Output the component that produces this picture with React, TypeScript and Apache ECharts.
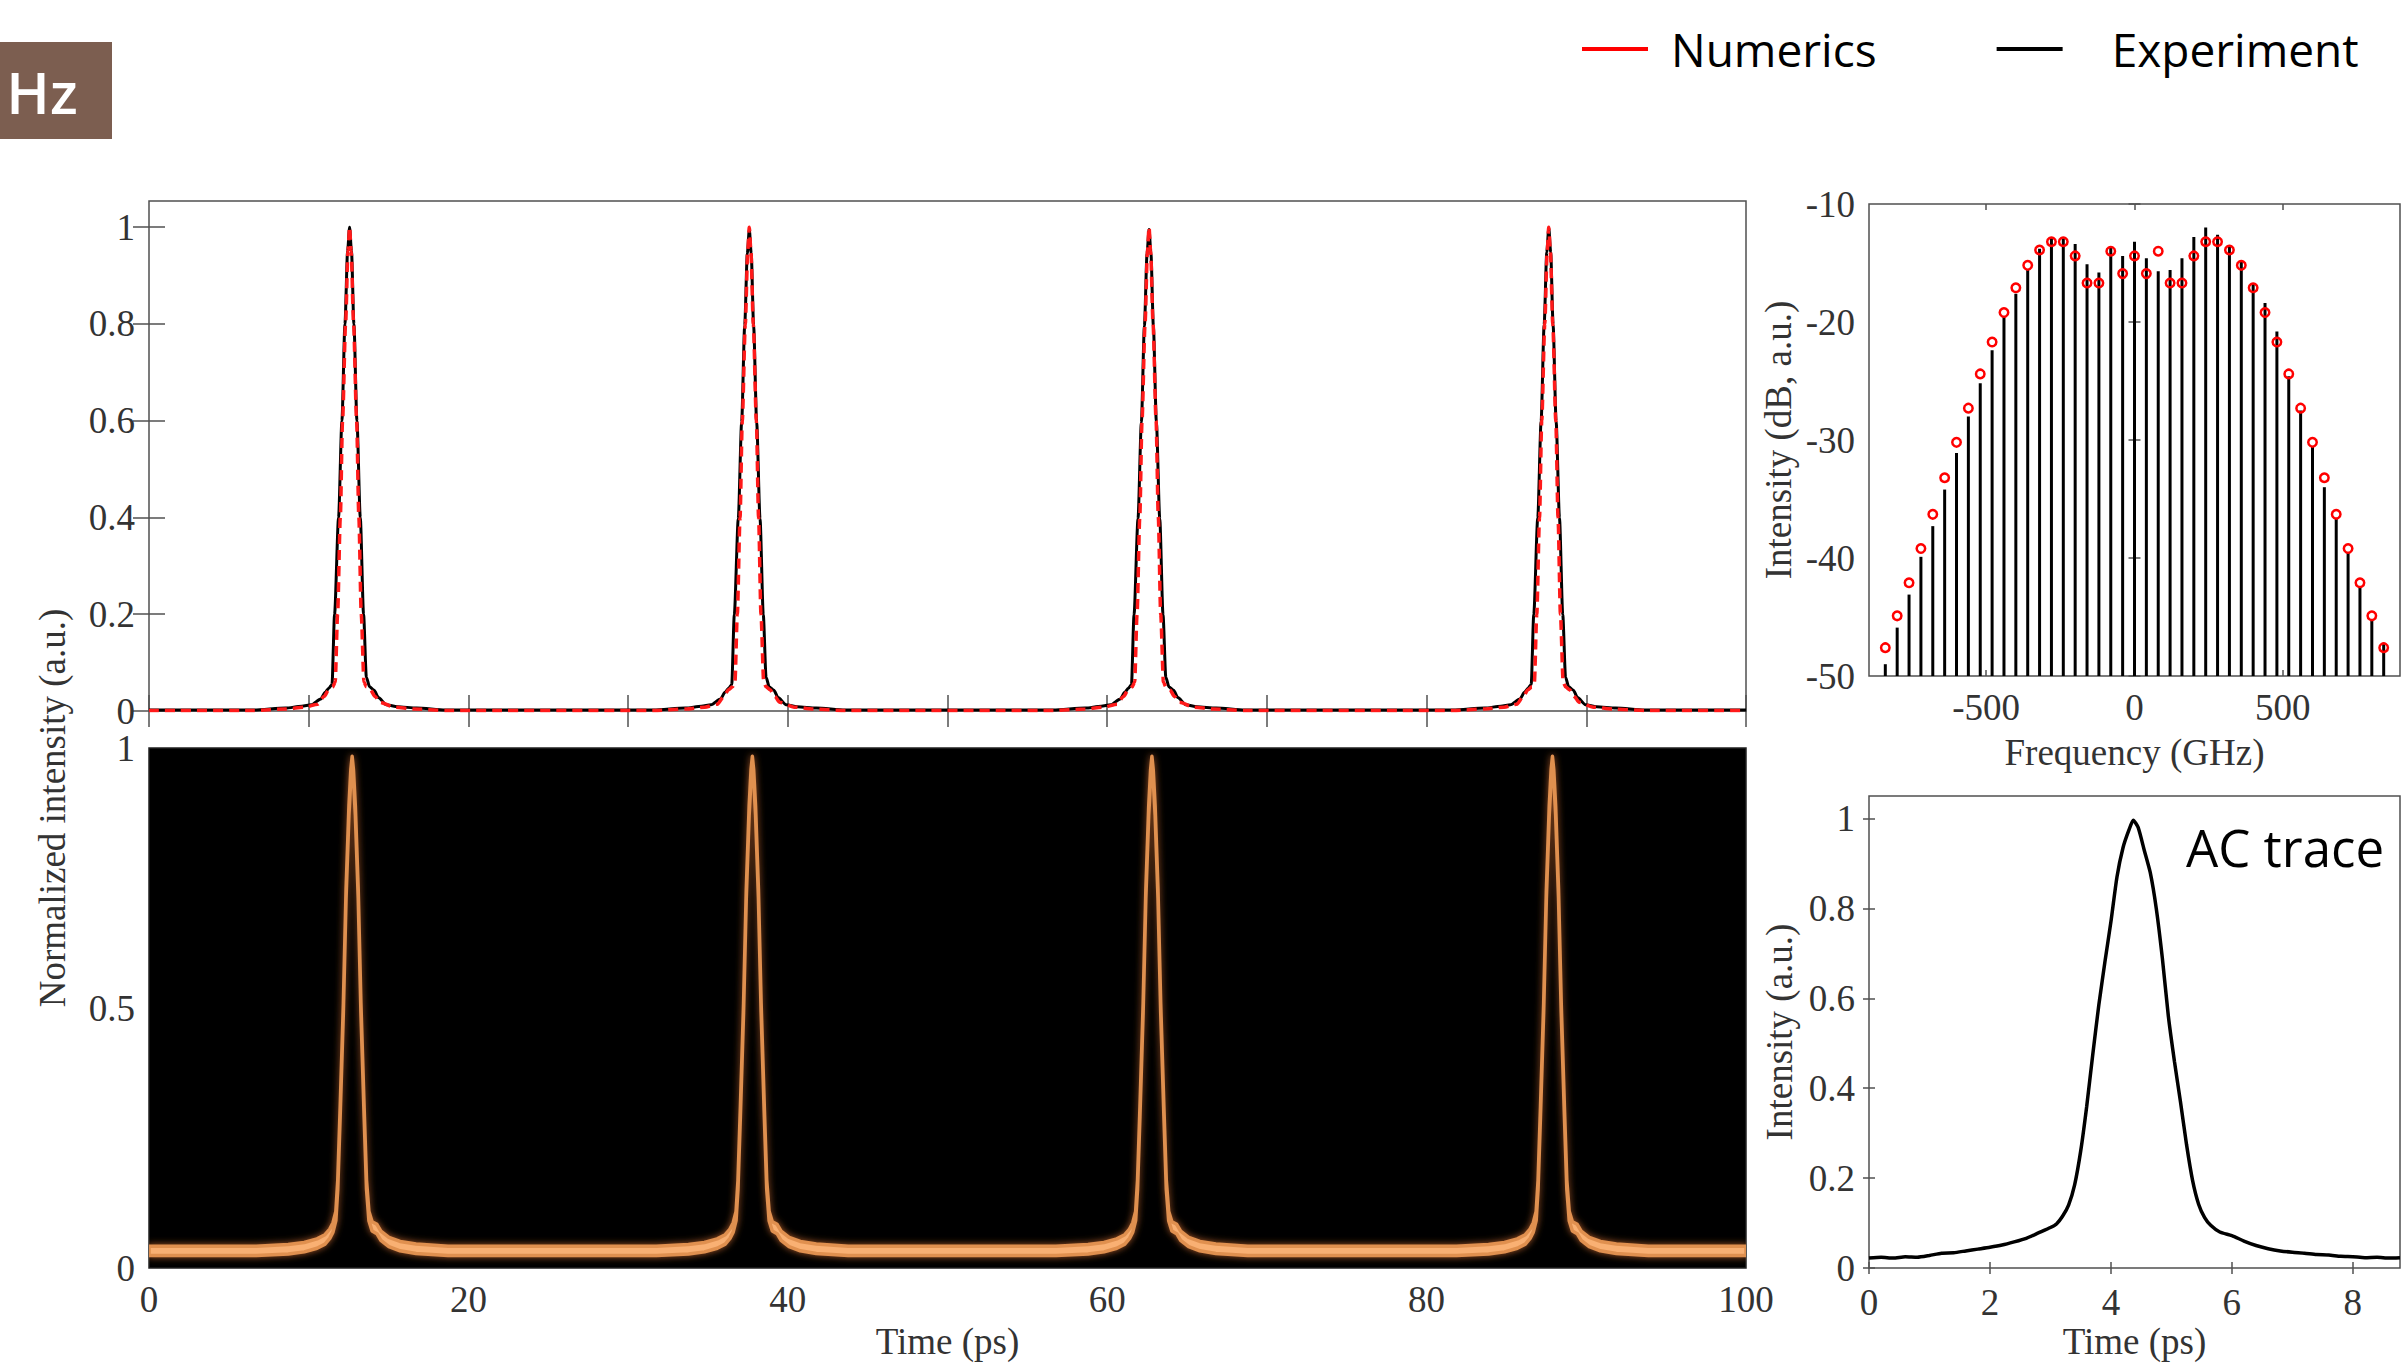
import React, { useEffect, useRef } from 'react';
import * as echarts from 'echarts';

// ---------- data ----------
// Top-left: periodic pulse train (time in ps, normalized intensity)
const TOP_PEAK_TIMES = [12.56, 37.59, 62.62, 87.65];
const EXP_PEAK_HEIGHTS = [1.0, 0.995, 0.995, 0.998];
const NUM_PEAK_HEIGHTS = [1.0, 1.0, 1.0, 1.0];
const EXP_PULSE_DT = [-6, -4, -3, -2.4, -1.8, -1.52, -1.3, -1.1, -0.94, -0.69, -0.48, -0.29, -0.125, 0, 0.12, 0.27, 0.46, 0.67, 0.875, 1.05, 1.25, 1.54, 1.8, 2.3, 3, 4.2, 6];
const EXP_PULSE_V = [0.002, 0.006, 0.01, 0.013, 0.025, 0.039, 0.047, 0.055, 0.2, 0.4, 0.6, 0.8, 0.95, 1.0, 0.95, 0.8, 0.6, 0.4, 0.2, 0.07, 0.05, 0.043, 0.028, 0.013, 0.009, 0.006, 0.002];
const NUM_PULSE_DT = [-6, -4, -2.8, -2.0, -1.6, -1.3, -1.05, -0.9, -0.75, -0.58, -0.44, -0.25, -0.1, 0, 0.1, 0.25, 0.44, 0.58, 0.73, 0.9, 1.05, 1.3, 1.6, 1.9, 2.8, 4, 6];
const NUM_PULSE_V = [0.001, 0.004, 0.008, 0.014, 0.03, 0.044, 0.05, 0.06, 0.2, 0.4, 0.6, 0.8, 0.95, 1.0, 0.95, 0.8, 0.6, 0.4, 0.2, 0.06, 0.05, 0.044, 0.03, 0.018, 0.008, 0.004, 0.001];
const EXP_BASE = 0.002;
const NUM_BASE = 0.001;

// Bottom-left: oscilloscope persistence trace
const SCOPE_PEAK_TIMES = [12.72, 37.78, 62.8, 87.88];
const SCOPE_PEAK_HEIGHTS = [1.0, 1.0, 1.0, 1.0];
const SCOPE_PULSE_DT = [-6, -4, -3, -2.2, -1.7, -1.4, -1.2, -1.02, -0.9, -0.75, -0.55, -0.38, -0.2, -0.08, 0, 0.08, 0.2, 0.38, 0.55, 0.75, 0.9, 1.05, 1.25, 1.55, 1.8, 2.3, 3, 4, 6];
const SCOPE_PULSE_V = [0.033, 0.036, 0.04, 0.047, 0.055, 0.066, 0.078, 0.1, 0.16, 0.3, 0.5, 0.72, 0.88, 0.95, 0.975, 0.95, 0.88, 0.72, 0.5, 0.3, 0.16, 0.1, 0.08, 0.075, 0.062, 0.05, 0.042, 0.037, 0.033];
const SCOPE_BASE = 0.033;
const TIME_END = 100;

// Spectrum (GHz, dB)
const FREQ_GHZ = [-840, -800, -760, -720, -680, -640, -600, -560, -520, -480, -440, -400, -360, -320, -280, -240, -200, -160, -120, -80, -40, 0, 40, 80, 120, 160, 200, 240, 280, 320, 360, 400, 440, 480, 520, 560, 600, 640, 680, 720, 760, 800, 840];
const SPEC_EXP_DB = [-49.0, -45.9, -43.1, -39.9, -37.3, -34.2, -31.1, -28.0, -25.2, -22.4, -19.5, -17.6, -15.6, -13.8, -12.9, -12.9, -13.4, -15.1, -15.8, -13.6, -14.4, -13.2, -14.6, -15.7, -15.6, -14.6, -12.8, -12.0, -12.6, -13.5, -14.8, -16.7, -18.4, -20.8, -24.6, -27.5, -30.5, -34.0, -36.6, -39.5, -42.4, -45.2, -47.2];
const SPEC_NUM_DB = [-47.6, -44.9, -42.1, -39.2, -36.3, -33.2, -30.2, -27.3, -24.4, -21.7, -19.2, -17.1, -15.2, -13.9, -13.2, -13.2, -14.4, -16.7, -16.7, -14.0, -15.9, -14.4, -15.9, -14.0, -16.7, -16.7, -14.4, -13.2, -13.2, -13.9, -15.2, -17.1, -19.2, -21.7, -24.4, -27.3, -30.2, -33.2, -36.3, -39.2, -42.1, -44.9, -47.6];
const SPEC_FLOOR_DB = -50;

// Autocorrelation trace
const AC_T = [0.0, 0.2, 0.4, 0.6, 0.8, 1.0, 1.2, 1.4, 1.6, 1.8, 2.0, 2.2, 2.4, 2.6, 2.8, 3.0, 3.1, 3.2, 3.3, 3.4, 3.5, 3.6, 3.7, 3.8, 3.9, 4.0, 4.1, 4.2, 4.3, 4.37, 4.45, 4.55, 4.65, 4.75, 4.85, 4.95, 5.05, 5.15, 5.25, 5.35, 5.45, 5.55, 5.65, 5.8, 6.0, 6.2, 6.4, 6.6, 6.8, 7.0, 7.2, 7.4, 7.6, 7.8, 8.0, 8.2, 8.4, 8.6, 8.78];
const AC_V = [0.022, 0.024, 0.022, 0.025, 0.024, 0.028, 0.033, 0.034, 0.038, 0.042, 0.046, 0.051, 0.058, 0.066, 0.078, 0.09, 0.098, 0.115, 0.14, 0.185, 0.26, 0.36, 0.475, 0.585, 0.68, 0.77, 0.87, 0.935, 0.975, 0.996, 0.98, 0.93, 0.88, 0.8, 0.69, 0.56, 0.46, 0.37, 0.275, 0.195, 0.142, 0.112, 0.095, 0.08, 0.072, 0.06, 0.05, 0.043, 0.038, 0.035, 0.033, 0.03, 0.029, 0.026, 0.025, 0.023, 0.024, 0.022, 0.023];

// Tick labels
const TOP_Y_TICKS = [0, 0.2, 0.4, 0.6, 0.8, 1];
const SCOPE_Y_TICKS = [0, 0.5, 1];
const SPEC_X_TICKS = [-500, 0, 500];
const AC_X_TICKS = [0, 2, 4, 6, 8];
const AC_Y_TICKS = [0, 0.2, 0.4, 0.6, 0.8, 1];

// ---------- styling ----------
const SERIF = "'Liberation Serif', 'Times New Roman', serif";
const SANS = "'Open Sans', 'Noto Sans', sans-serif";
const LABEL_COLOR = '#333';
const FRAME_COLOR = '#505050';
const RED = '#ff1a1a';

function buildTrace(centers: number[], heights: number[], dts: number[], vals: number[], base: number) {
  const pts: number[][] = [[0, base]];
  centers.forEach((c, k) => {
    dts.forEach((d, i) => pts.push([c + d, vals[i] * heights[k]]));
  });
  pts.push([TIME_END, base]);
  return pts;
}

const expTrace = buildTrace(TOP_PEAK_TIMES, EXP_PEAK_HEIGHTS, EXP_PULSE_DT, EXP_PULSE_V, EXP_BASE);
const numTrace = buildTrace(TOP_PEAK_TIMES, NUM_PEAK_HEIGHTS, NUM_PULSE_DT, NUM_PULSE_V, NUM_BASE);
const scopeTrace = buildTrace(SCOPE_PEAK_TIMES, SCOPE_PEAK_HEIGHTS, SCOPE_PULSE_DT, SCOPE_PULSE_V, SCOPE_BASE);

const labelStyle = (margin: number, extra: any = {}) => ({
  show: true,
  fontFamily: SERIF,
  fontSize: 37,
  color: LABEL_COLOR,
  margin,
  ...extra,
});

const tickStyle = (len: number, extra: any = {}) => ({
  show: true,
  inside: true,
  length: len,
  lineStyle: { color: FRAME_COLOR, width: 1.5 },
  ...extra,
});

const nameStyle = { fontFamily: SERIF, fontSize: 37, color: LABEL_COLOR };

function baseAxis(o: any) {
  return {
    type: 'value',
    splitLine: { show: false },
    axisLine: { show: false },
    nameMoveOverlap: false,
    ...o,
  };
}

function buildOption(): any {
  const gridCommon = {
    show: true,
    borderColor: FRAME_COLOR,
    borderWidth: 1.5,
    containLabel: false,
    outerBoundsMode: 'none',
  };
  const grid = [
    { ...gridCommon, left: 149, top: 201, width: 1597, height: 510, backgroundColor: '#fff' },
    { ...gridCommon, left: 149, top: 748, width: 1597, height: 520, backgroundColor: '#000', borderColor: '#222' },
    { ...gridCommon, left: 1869, top: 204, width: 531, height: 472, backgroundColor: '#fff' },
    { ...gridCommon, left: 1869, top: 796, width: 531, height: 472, backgroundColor: '#fff' },
  ];

  const xAxis = [
    baseAxis({ gridIndex: 0, position: 'bottom', min: 0, max: TIME_END, interval: 10, axisTick: tickStyle(16), axisLabel: { show: false } }),
    baseAxis({ gridIndex: 0, position: 'top', min: 0, max: TIME_END, interval: 10, axisTick: tickStyle(16), axisLabel: { show: false } }),
    baseAxis({
      gridIndex: 1, position: 'bottom', min: 0, max: TIME_END, interval: 20,
      axisTick: { show: false }, axisLabel: labelStyle(13),
      name: 'Time (ps)', nameLocation: 'middle', nameGap: 55, nameTextStyle: nameStyle,
    }),
    baseAxis({
      gridIndex: 2, position: 'bottom', min: -895, max: 895,
      axisTick: tickStyle(6, { customValues: SPEC_X_TICKS }),
      axisLabel: labelStyle(13, { customValues: SPEC_X_TICKS }),
      name: 'Frequency (GHz)', nameLocation: 'middle', nameGap: 58, nameTextStyle: nameStyle,
    }),
    baseAxis({
      gridIndex: 2, position: 'top', min: -895, max: 895,
      axisTick: tickStyle(6, { customValues: SPEC_X_TICKS }), axisLabel: { show: false },
    }),
    baseAxis({
      gridIndex: 3, position: 'bottom', min: 0, max: 8.78, interval: 2,
      axisTick: tickStyle(6, { customValues: AC_X_TICKS }),
      axisLabel: labelStyle(16, { customValues: AC_X_TICKS }),
      name: 'Time (ps)', nameLocation: 'middle', nameGap: 55, nameTextStyle: nameStyle,
    }),
    baseAxis({
      gridIndex: 3, position: 'top', min: 0, max: 8.78, interval: 2,
      axisTick: tickStyle(6, { customValues: AC_X_TICKS }), axisLabel: { show: false },
    }),
  ];

  const yAxis = [
    baseAxis({
      gridIndex: 0, position: 'left', min: 0, max: 1.054, interval: 0.2,
      axisTick: tickStyle(16, { customValues: TOP_Y_TICKS }),
      axisLabel: labelStyle(14, { customValues: TOP_Y_TICKS }),
    }),
    baseAxis({
      gridIndex: 0, position: 'right', min: 0, max: 1.054, interval: 0.2,
      axisTick: tickStyle(16, { customValues: TOP_Y_TICKS }), axisLabel: { show: false },
    }),
    baseAxis({
      gridIndex: 1, position: 'left', min: 0, max: 1, interval: 0.5,
      axisTick: { show: false },
      axisLabel: labelStyle(14, { customValues: SCOPE_Y_TICKS }),
    }),
    baseAxis({
      gridIndex: 2, position: 'left', min: SPEC_FLOOR_DB, max: -10, interval: 10,
      axisTick: tickStyle(6), axisLabel: labelStyle(14),
      name: 'Intensity (dB, a.u.)', nameLocation: 'middle', nameRotate: 90, nameGap: 72, nameTextStyle: nameStyle,
    }),
    baseAxis({
      gridIndex: 2, position: 'right', min: SPEC_FLOOR_DB, max: -10, interval: 10,
      axisTick: tickStyle(6), axisLabel: { show: false },
    }),
    baseAxis({
      gridIndex: 3, position: 'left', min: 0, max: 1.05, interval: 0.2,
      axisTick: tickStyle(6, { customValues: AC_Y_TICKS }),
      axisLabel: labelStyle(14, { customValues: AC_Y_TICKS }),
      name: 'Intensity (a.u.)', nameLocation: 'middle', nameRotate: 90, nameGap: 71, nameTextStyle: nameStyle,
    }),
    baseAxis({
      gridIndex: 3, position: 'right', min: 0, max: 1.05, interval: 0.2,
      axisTick: tickStyle(6, { customValues: AC_Y_TICKS }), axisLabel: { show: false },
    }),
  ];

  const SCOPE_BAND = 0.009;

  const series: any[] = [
    {
      type: 'line', name: 'Experiment', xAxisIndex: 0, yAxisIndex: 0,
      data: expTrace, showSymbol: false, smooth: 0.25, smoothMonotone: 'x',
      color: '#000', lineStyle: { color: '#000', width: 3 }, z: 3,
    },
    {
      type: 'line', name: 'Numerics', xAxisIndex: 0, yAxisIndex: 0,
      data: numTrace, showSymbol: false, smooth: 0.25, smoothMonotone: 'x',
      color: RED, lineStyle: { color: RED, width: 3.5, type: [10, 6] }, z: 4,
    },
    {
      type: 'custom', name: 'Scope trace', xAxisIndex: 2, yAxisIndex: 2, silent: true, clip: true,
      data: [scopeTrace[0]],
      renderItem: (_params: any, api: any) => {
        const upper = scopeTrace.map((p) => api.coord([p[0], p[1] + SCOPE_BAND]));
        const lower = scopeTrace.map((p) => api.coord([p[0], p[1] - SCOPE_BAND])).reverse();
        return {
          type: 'polygon',
          shape: { points: upper.concat(lower) },
          style: {
            fill: '#f9b073',
            stroke: '#e0904f',
            lineWidth: 3.5,
            lineJoin: 'round',
            shadowBlur: 7,
            shadowColor: 'rgba(210,110,50,0.8)',
          },
        };
      },
      z: 3,
    },
    {
      type: 'custom', name: 'Experiment', xAxisIndex: 3, yAxisIndex: 3,
      data: FREQ_GHZ.map((f, i) => [f, SPEC_EXP_DB[i]]),
      color: '#000',
      renderItem: (_params: any, api: any) => {
        const x = api.value(0);
        const y = api.value(1);
        const top = api.coord([x, y]);
        const bot = api.coord([x, SPEC_FLOOR_DB]);
        return {
          type: 'line',
          shape: { x1: top[0], y1: top[1], x2: bot[0], y2: bot[1] },
          style: { stroke: '#000', lineWidth: 3 },
        };
      },
      z: 3,
    },
    {
      type: 'scatter', name: 'Numerics', xAxisIndex: 3, yAxisIndex: 3,
      data: FREQ_GHZ.map((f, i) => [f, SPEC_NUM_DB[i]]),
      symbol: 'circle', symbolSize: 8.5, color: RED,
      itemStyle: { color: 'rgba(255,255,255,0)', borderColor: '#ff0000', borderWidth: 2.5, opacity: 1 },
      z: 5,
    },
    {
      type: 'line', name: 'Experiment', xAxisIndex: 5, yAxisIndex: 5,
      data: AC_T.map((t, i) => [t, AC_V[i]]), showSymbol: false, smooth: 0.2,
      color: '#000', lineStyle: { color: '#000', width: 3.5 }, z: 3,
    },
  ];

  return {
    animation: false,
    backgroundColor: '#fff',
    grid,
    xAxis,
    yAxis,
    series,
    legend: {
      show: true,
      selectedMode: false,
      left: 1577,
      top: 21,
      orient: 'horizontal',
      icon: 'rect',
      itemWidth: 66,
      itemHeight: 4,
      itemGap: 120,
      textStyle: { fontFamily: SANS, fontSize: 46, color: '#000', padding: [0, 0, 0, 18] },
      data: [
        { name: 'Numerics', itemStyle: { color: '#ff0000', borderWidth: 0 } },
        { name: 'Experiment', itemStyle: { color: '#000', borderWidth: 0 }, textStyle: { padding: [0, 0, 0, 44] } },
      ],
    },
    graphic: [
      { type: 'rect', left: 0, top: 42, shape: { width: 112, height: 97 }, style: { fill: '#7c5e50' } },
      {
        type: 'text', x: 42, y: 91,
        style: { text: 'Hz', fontFamily: SANS, fontSize: 58, fontWeight: 600, fill: '#fff', align: 'center', verticalAlign: 'middle' },
      },
      {
        type: 'text', x: 52, y: 808, rotation: Math.PI / 2,
        style: { text: 'Normalized intensity (a.u.)', fontFamily: SERIF, fontSize: 37, fill: LABEL_COLOR, align: 'center', verticalAlign: 'middle' },
      },
      {
        type: 'text', x: 2186, y: 847, z: 10,
        style: { text: 'AC trace', fontFamily: SANS, fontSize: 51, fill: '#000', align: 'left', verticalAlign: 'middle' },
      },
    ],
  };
}

export default function App() {
  const ref = useRef<HTMLDivElement>(null);
  useEffect(() => {
    if (!ref.current) return;
    const chart = echarts.init(ref.current, null, { renderer: 'svg' });
    chart.setOption(buildOption());
    return () => chart.dispose();
  }, []);
  return (
    <div
      ref={ref}
      style={{ position: 'fixed', left: 0, top: 0, width: 2402, height: 1366, background: '#fff' }}
    />
  );
}
